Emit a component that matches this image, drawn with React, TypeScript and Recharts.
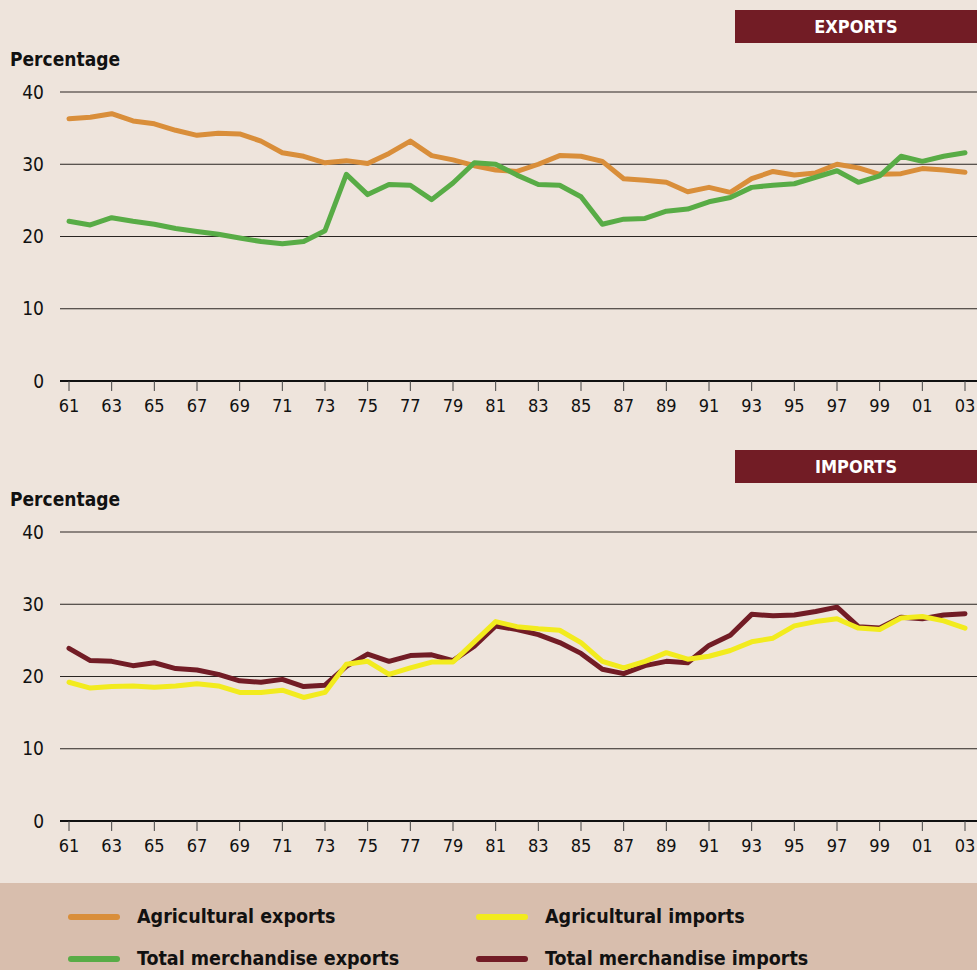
import { LineChart, Line, XAxis, YAxis, CartesianGrid } from 'recharts';

const FONT = '"Liberation Sans Narrow", "DejaVu Sans Condensed", "Open Sans", sans-serif';
const BG = '#EEE4DC';
const BAND = '#D8BEAD';
const HEAD = '#721C25';

const ORANGE = '#D98E3A';
const GREEN = '#58AC46';
const YELLOW = '#F2EB1E';
const DARKRED = '#721C25';

const years = [
  1961, 1962, 1963, 1964, 1965, 1966, 1967, 1968, 1969, 1970, 1971, 1972, 1973, 1974, 1975,
  1976, 1977, 1978, 1979, 1980, 1981, 1982, 1983, 1984, 1985, 1986, 1987, 1988, 1989, 1990,
  1991, 1992, 1993, 1994, 1995, 1996, 1997, 1998, 1999, 2000, 2001, 2002, 2003,
];

const agriExports = [
  36.3, 36.5, 37.0, 36.0, 35.6, 34.7, 34.0, 34.3, 34.2, 33.2, 31.6, 31.1, 30.2, 30.5, 30.1,
  31.5, 33.2, 31.2, 30.6, 29.8, 29.2, 29.0, 30.0, 31.2, 31.1, 30.4, 28.0, 27.8, 27.5, 26.2,
  26.8, 26.1, 28.0, 29.0, 28.5, 28.8, 30.0, 29.5, 28.6, 28.7, 29.4, 29.2, 28.9,
];

const totalExports = [
  22.1, 21.6, 22.6, 22.1, 21.7, 21.1, 20.7, 20.3, 19.8, 19.3, 19.0, 19.3, 20.8, 28.6, 25.8,
  27.2, 27.1, 25.1, 27.4, 30.2, 30.0, 28.5, 27.2, 27.1, 25.5, 21.7, 22.4, 22.5, 23.5, 23.8,
  24.8, 25.4, 26.8, 27.1, 27.3, 28.2, 29.1, 27.5, 28.4, 31.1, 30.4, 31.1, 31.6,
];

const agriImports = [
  19.2, 18.4, 18.6, 18.7, 18.5, 18.7, 19.0, 18.7, 17.8, 17.8, 18.1, 17.1, 17.8, 21.7, 22.1,
  20.3, 21.2, 22.0, 22.0, 24.8, 27.6, 26.9, 26.6, 26.4, 24.7, 22.1, 21.2, 22.1, 23.3, 22.4,
  22.8, 23.6, 24.8, 25.3, 27.0, 27.6, 28.0, 26.7, 26.5, 28.1, 28.3, 27.7, 26.7,
];

const totalImports = [
  23.9, 22.2, 22.1, 21.5, 21.9, 21.1, 20.9, 20.3, 19.4, 19.2, 19.6, 18.6, 18.8, 21.4, 23.1,
  22.1, 22.9, 23.0, 22.2, 24.2, 27.0, 26.5, 25.8, 24.7, 23.2, 21.0, 20.4, 21.5, 22.1, 21.9,
  24.3, 25.7, 28.6, 28.4, 28.5, 29.0, 29.6, 26.9, 26.7, 28.2, 28.0, 28.5, 28.7,
];

const yearTicks = [
  1961, 1963, 1965, 1967, 1969, 1971, 1973, 1975, 1977, 1979, 1981, 1983, 1985, 1987, 1989,
  1991, 1993, 1995, 1997, 1999, 2001, 2003,
];
const valueTicks = [0, 10, 20, 30, 40];

const exportRows = years.map((year, i) => ({
  year,
  agri: agriExports[i],
  total: totalExports[i],
}));

const importRows = years.map((year, i) => ({
  year,
  agri: agriImports[i],
  total: totalImports[i],
}));

type Series = { key: string; color: string };

function Panel({
  data,
  series,
}: {
  data: { year: number; agri: number; total: number }[];
  series: Series[];
}) {
  return (
    <LineChart
      width={977}
      height={350}
      data={data}
      margin={{ top: 12, right: 0, left: 0, bottom: 19 }}
    >
      <CartesianGrid horizontal vertical={false} stroke="#2a2522" strokeWidth={1} />
      <XAxis
        dataKey="year"
        type="number"
        domain={[1961, 2003]}
        ticks={yearTicks}
        tickFormatter={(y: number) => String(y).slice(2)}
        padding={{ left: 9, right: 12 }}
        height={30}
        axisLine={{ stroke: '#111', strokeWidth: 2 }}
        tickLine={{ stroke: '#444', strokeWidth: 1 }}
        tickSize={10}
        tickMargin={8}
        tick={{ fontSize: 18, fill: '#111', fontFamily: FONT }}
        interval={0}
      />
      <YAxis
        domain={[0, 40]}
        ticks={valueTicks}
        width={60}
        axisLine={false}
        tickLine={false}
        tickSize={6}
        tickMargin={10}
        tick={{ fontSize: 19, fill: '#111', fontFamily: FONT }}
        interval={0}
      />
      {series.map((s) => (
        <Line
          key={s.key}
          type="linear"
          dataKey={s.key}
          stroke={s.color}
          strokeWidth={5}
          strokeLinejoin="round"
          strokeLinecap="round"
          dot={false}
          activeDot={false}
          isAnimationActive={false}
        />
      ))}
    </LineChart>
  );
}

function Header({ text, top }: { text: string; top: number }) {
  return (
    <div
      style={{
        position: 'absolute',
        left: 735,
        top,
        width: 242,
        height: 33,
        background: HEAD,
        color: '#fff',
        fontFamily: FONT,
        fontWeight: 700,
        fontSize: 18,
        lineHeight: '33px',
        textAlign: 'center',
      }}
    >
      {text}
    </div>
  );
}

function AxisTitle({ top }: { top: number }) {
  return (
    <div
      style={{
        position: 'absolute',
        left: 10,
        top,
        fontFamily: FONT,
        fontWeight: 700,
        fontSize: 19,
        lineHeight: '24px',
        color: '#111',
      }}
    >
      Percentage
    </div>
  );
}

const legendItems = [
  { label: 'Agricultural exports', color: ORANGE, x: 68, y: 917 },
  { label: 'Agricultural imports', color: YELLOW, x: 476, y: 917 },
  { label: 'Total merchandise exports', color: GREEN, x: 68, y: 959 },
  { label: 'Total merchandise imports', color: DARKRED, x: 476, y: 959 },
];

export default function App() {
  return (
    <div
      style={{
        position: 'absolute',
        left: 0,
        top: 0,
        width: 977,
        height: 970,
        overflow: 'hidden',
        background: BG,
      }}
    >
      <Header text="EXPORTS" top={10} />
      <AxisTitle top={47} />
      <div style={{ position: 'absolute', left: 0, top: 80 }}>
        <Panel
          data={exportRows}
          series={[
            { key: 'agri', color: ORANGE },
            { key: 'total', color: GREEN },
          ]}
        />
      </div>

      <Header text="IMPORTS" top={450} />
      <AxisTitle top={487} />
      <div style={{ position: 'absolute', left: 0, top: 520 }}>
        <Panel
          data={importRows}
          series={[
            { key: 'total', color: DARKRED },
            { key: 'agri', color: YELLOW },
          ]}
        />
      </div>

      <div
        style={{
          position: 'absolute',
          left: 0,
          top: 883,
          width: 977,
          height: 87,
          background: BAND,
        }}
      >
        {legendItems.map((it) => (
          <div key={it.label}>
            <div
              style={{
                position: 'absolute',
                left: it.x,
                top: it.y - 883 - 3,
                width: 52,
                height: 6,
                borderRadius: 3,
                background: it.color,
              }}
            />
            <div
              style={{
                position: 'absolute',
                left: it.x + 69,
                top: it.y - 883 - 12,
                fontFamily: FONT,
                fontWeight: 700,
                fontSize: 19.5,
                lineHeight: '24px',
                color: '#111',
                whiteSpace: 'nowrap',
              }}
            >
              {it.label}
            </div>
          </div>
        ))}
      </div>
    </div>
  );
}
